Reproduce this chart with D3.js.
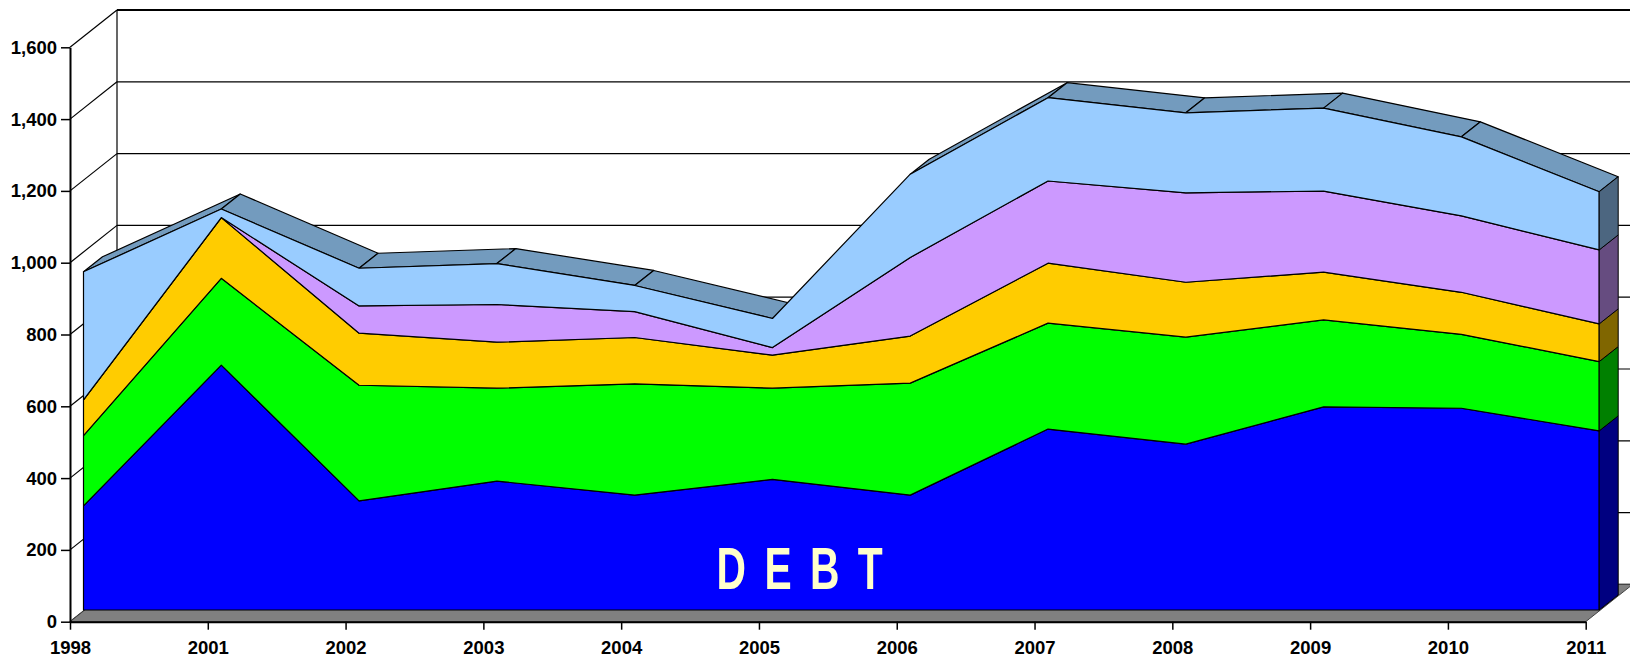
<!DOCTYPE html>
<html>
<head>
<meta charset="utf-8">
<script src="https://cdn.jsdelivr.net/npm/d3@7"></script>
<style>
  body { margin: 0; background: #fff; }
  svg { display: block; font-family: "Liberation Sans", Arial, sans-serif; }
</style>
</head>
<body>
<svg id="chart"></svg>
<script>
// Chart data, layers from bottom to top
const years   = ["1998", "2001", "2002", "2003", "2004", "2005", "2006", "2007", "2008", "2009", "2010", "2011"];
const debt    = [290, 682, 304, 359, 320, 364, 320, 504, 462, 566, 562, 499];
const layer2  = [196, 242, 322, 259, 310, 254, 312, 295, 298, 242, 206, 193];
const layer3  = [99, 169, 145, 128, 129, 92, 131, 167, 153, 133, 117, 105];
const layer4  = [0, 0, 76, 105, 72, 21, 219, 229, 249, 226, 213, 206];
const layer5  = [357, 24, 105, 114, 73, 81, 232, 232, 223, 231, 220, 162];
const yTicks  = [0, 200, 400, 600, 800, 1000, 1200, 1400, 1600];

const keys = ["debt", "layer2", "layer3", "layer4", "layer5"];
const frontColors = ["#0000ff", "#00ff00", "#ffcc00", "#cc99ff", "#99ccff"];
const sideColors  = ["#000080", "#008000", "#806600", "#664c80", "#4c6680"];
const topColor = "#739bbe";

const W = 1630, H = 659;
const left = 70, right = 1585.7, bottom = 621.7, topY = 47.3;
// 3D offsets: whole box depth, front face of the area, thickness of the area
const depth = {dx: 47, dy: -37.3};
const areaOff = {dx: 13.5, dy: -11.7};
const areaDepth = {dx: 19, dy: -15};

const svg = d3.select("#chart").attr("width", W).attr("height", H);

const x = d3.scalePoint().domain(years).range([left, right]).padding(0);
const y = d3.scaleLinear().domain([0, 1600]).range([bottom, topY]);

// Back wall: gridlines and left edge
svg.append("g").selectAll("line")
    .data(yTicks)
    .join("line")
    .attr("x1", left + depth.dx)
    .attr("x2", W + 10)
    .attr("y1", d => y(d) + depth.dy)
    .attr("y2", d => y(d) + depth.dy)
    .attr("stroke", "#000")
    .attr("stroke-width", d => d === 1600 ? 2 : 1.2);

svg.append("line")
    .attr("x1", left + depth.dx).attr("x2", left + depth.dx)
    .attr("y1", y(1600) + depth.dy).attr("y2", y(0) + depth.dy)
    .attr("stroke", "#000").attr("stroke-width", 1.2);

// Side wall diagonals
svg.append("g").selectAll("line")
    .data(yTicks)
    .join("line")
    .attr("x1", left).attr("y1", d => y(d))
    .attr("x2", left + depth.dx).attr("y2", d => y(d) + depth.dy)
    .attr("stroke", "#000")
    .attr("stroke-width", 1.2);

// Floor
svg.append("polygon")
    .attr("points", [
        [left, y(0)], [right, y(0)],
        [right + depth.dx, y(0) + depth.dy], [left + depth.dx, y(0) + depth.dy]
    ].join(" "))
    .attr("fill", "#808080")
    .attr("stroke", "#444")
    .attr("stroke-width", 1);

// Stacked data
const table = years.map((yr, i) => ({
    year: yr, debt: debt[i], layer2: layer2[i], layer3: layer3[i], layer4: layer4[i], layer5: layer5[i]
}));
const stacked = d3.stack().keys(keys)(table);

const xf = d => x(d.data.year) + areaOff.dx;
const yf = v => y(v) + areaOff.dy;

const areaG = svg.append("g");

// Top surface of the top layer, one quad per segment (skip back-facing ones)
const topLayer = stacked[stacked.length - 1];
const topPts = topLayer.map(d => [xf(d), yf(d[1])]);
d3.pairs(topPts).forEach(([a, b]) => {
    const sx = b[0] - a[0], sy = b[1] - a[1];
    const cross = sx * areaDepth.dy - sy * areaDepth.dx;
    if (cross >= 0) return;
    areaG.append("polygon")
        .attr("points", [a, b,
            [b[0] + areaDepth.dx, b[1] + areaDepth.dy],
            [a[0] + areaDepth.dx, a[1] + areaDepth.dy]].join(" "))
        .attr("fill", topColor)
        .attr("stroke", "#000")
        .attr("stroke-width", 1.2)
        .attr("stroke-linejoin", "round");
});

// Front faces
const area = d3.area()
    .x(d => xf(d))
    .y0(d => yf(d[0]))
    .y1(d => yf(d[1]));

areaG.selectAll("path.front")
    .data(stacked)
    .join("path")
    .attr("class", "front")
    .attr("d", area)
    .attr("fill", (d, i) => frontColors[i])
    .attr("stroke", "#000")
    .attr("stroke-width", 1.2)
    .attr("stroke-linejoin", "round");

// Right side faces
areaG.selectAll("polygon.side")
    .data(stacked)
    .join("polygon")
    .attr("class", "side")
    .attr("points", s => {
        const d = s[s.length - 1];
        const px = xf(d);
        return [[px, yf(d[0])], [px, yf(d[1])],
            [px + areaDepth.dx, yf(d[1]) + areaDepth.dy],
            [px + areaDepth.dx, yf(d[0]) + areaDepth.dy]].join(" ");
    })
    .attr("fill", (d, i) => sideColors[i])
    .attr("stroke", "#000")
    .attr("stroke-width", 1);

// Axes
const yAxis = svg.append("g")
    .attr("transform", `translate(${left},0)`)
    .call(d3.axisLeft(y).tickValues(yTicks).tickFormat(d3.format(",")).tickSize(9).tickSizeOuter(0).tickPadding(4));

const xAxis = svg.append("g")
    .attr("transform", `translate(0,${bottom})`)
    .call(d3.axisBottom(x).tickSize(8).tickSizeOuter(0).tickPadding(11));

[yAxis, xAxis].forEach(g => {
    g.select(".domain").attr("stroke", "#000").attr("stroke-width", 2);
    g.selectAll(".tick line").attr("stroke", "#000").attr("stroke-width", 1.5);
    g.selectAll("text")
        .style("font-size", "18.5px")
        .style("font-weight", "bold")
        .style("font-family", "'Liberation Sans', Arial, sans-serif")
        .attr("fill", "#000");
});

// Label on the debt layer
svg.append("text")
    .attr("transform", "translate(800,589) scale(0.68,1)")
    .attr("x", 13)
    .attr("text-anchor", "middle")
    .style("font-size", "60px")
    .style("font-weight", "bold")
    .style("letter-spacing", "27px")
    .attr("fill", "#ffffcc")
    .text("DEBT");
</script>
</body>
</html>
